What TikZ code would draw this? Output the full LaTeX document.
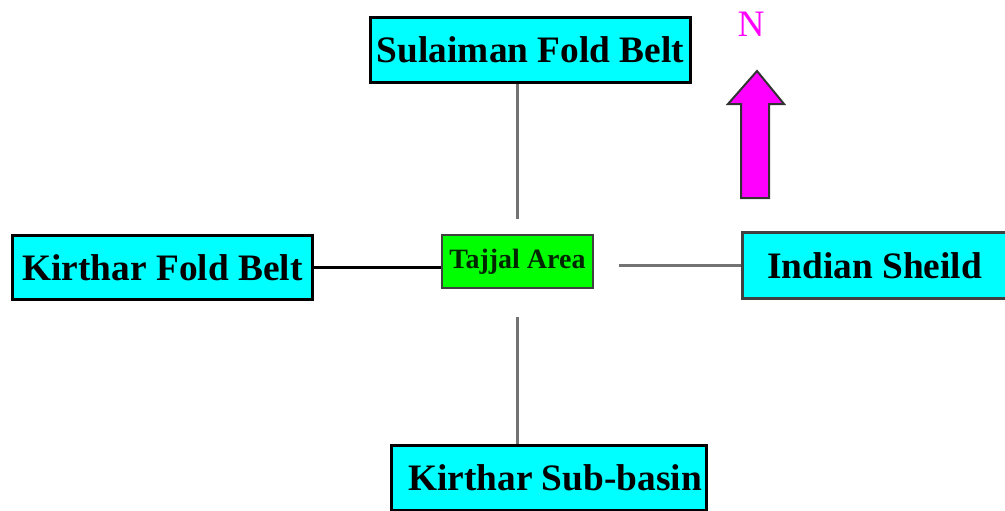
\documentclass[tikz,border=0pt]{standalone}
\usepackage{fontspec}
\setmainfont{Liberation Serif}
\definecolor{boxcyan}{RGB}{0,255,255}
\definecolor{areagreen}{RGB}{0,255,0}
\definecolor{arrowpink}{RGB}{255,0,255}
\definecolor{linkgray}{RGB}{115,115,115}
\begin{document}
\begin{tikzpicture}[x=0.75pt,y=-0.75pt,
  region/.style={draw=black, line width=2.25pt, fill=boxcyan,
    font=\fontsize{28}{30}\selectfont\bfseries, inner sep=0pt},
  area/.style={draw=black!75, line width=1.5pt, fill=areagreen,
    font=\fontsize{21}{23}\selectfont\bfseries, text=black!85!areagreen, inner sep=0pt},
  link/.style={line width=2.25pt, draw=linkgray},
  northarrow/.style={fill=arrowpink, draw=black!80, line width=1.5pt, line join=miter}]
\useasboundingbox (0,0) rectangle (1005,510);

% tectonic units around the study area
\node[region, minimum width=240pt, minimum height=48.75pt] (sul) at (530.5,50) {Sulaiman Fold Belt};
\node[region, minimum width=225pt, minimum height=48pt] (kfb) at (162.5,267.5) {Kirthar Fold Belt};
\node[region, draw=black!75, minimum width=201pt, minimum height=49.5pt] (ind) at (876.5,265.5) {\hspace{-3pt}Indian Sheild};
\node[region, minimum width=236.25pt, minimum height=48.75pt] (ksb) at (549,478) {\hspace{9pt}Kirthar Sub-basin};

% study area
\node[area, minimum width=113.25pt, minimum height=39.75pt] (taj) at (517.5,261.5) {Tajjal Area};

% connectors
\draw[link, shorten >=11.25pt] (sul.south -| taj.north) -- (taj.north);
\draw[link, shorten <=21pt] (taj.south) -- (taj.south |- ksb.north);
\draw[link, draw=black] (kfb.east) -- (taj.west |- kfb.east);
\draw[link, shorten <=18.75pt] (taj.east |- ind.west) -- (ind.west);

% north arrow
\node[text=arrowpink, font=\fontsize{28}{30}\selectfont, inner sep=0pt] (n) at (751,24) {N};
\draw[northarrow] (757,71) -- (784,104) -- (769,104) -- (769,198)
  -- (741,198) -- (741,104) -- (728,104) -- cycle;
\end{tikzpicture}
\end{document}
